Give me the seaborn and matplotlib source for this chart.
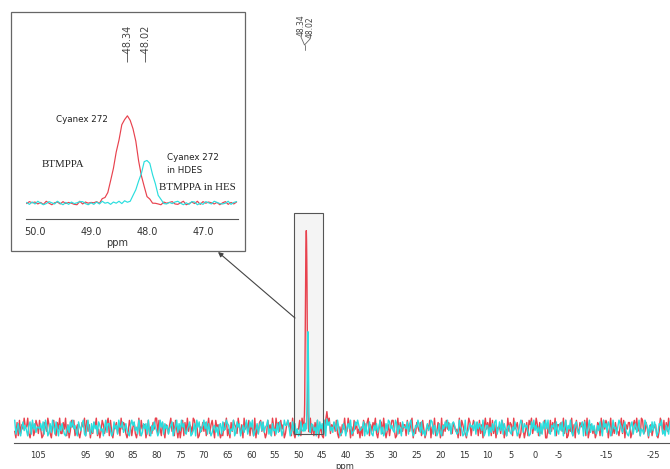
import numpy as np
import pandas as pd
import matplotlib
matplotlib.use("Agg")
import matplotlib.pyplot as plt
import seaborn as sns
from matplotlib.patches import Rectangle, FancyArrowPatch
from matplotlib.lines import Line2D
from matplotlib import transforms

# ---------------- data ----------------
series_names = ["Cyanex 272", "BTMPPA in HES"]
series_colors = ["#e8424e", "#2adede"]

# main spectrum grid (ppm) and hand-read noise digits (0-9 -> -amp..+amp)
main_start, main_step, main_n = 110.0, 0.25, 555
red_noise_main = ("30718264955920471386284017539620583174922749160385"
                  "81462037591836042759140386257918304572619476203851"
                  "57203918466038152749928417306526937184050481729365"
                  "29846015373715926840856302174914073865295260947381"
                  "64190527837302846195195738460268571920344819306257"
                  "92617480351048379265738205164923960518472405186379"
                  "16375920487294036158840192753661853790427537184026"
                  "48052913760916384752275340918632049715863718260594"
                  "73918260455286041937619457302840371869254961723580"
                  "05283749166473928015391608427574819036525027619384"
                  "86049152733159280647702684935198237405614561039728"
                  "2739461058")
cyan_noise_main = ("91472058363068194725547381960272951840637410362859"
                   "46208537910593172846186340592773028461955824731069"
                   "68351940274719206385302958174614680359273957214680"
                   "13709582469481730256250671834976143902857036259148"
                   "59024716838256914073417285039669502837140183746295"
                   "27635091847190468352863950127405749123869634580712"
                   "84106372591502739846329716408554817930265962813047"
                   "35981640272064859371786312954019024756381847539026"
                   "60527389148391740562153840269727563018493625071849"
                   "49216570831738059264920478315680841592736216384095"
                   "72860394515974268310368157249043197506283850276913"
                   "0641872953")
red_noise_amp = 0.05
cyan_noise_amp = 0.04
spike_ppm = [44.0]
red_spike = [0.10]
cyan_spike = [0.05]

# inset (zoom) grid, 50.15 -> 46.40 ppm
inset_start, inset_stop, inset_step = 50.15, 46.40, 0.05
red_noise_inset = "3857261940572836410927465819306481925037159384620746821590373918475260581627"
cyan_noise_inset = "6172940385294061735883051729461749382065508261947326379405187041852963249168"
inset_noise_amp = 0.02

red_peak_ppm = [48.90, 48.85, 48.80, 48.75, 48.70, 48.65, 48.60, 48.55, 48.50, 48.45, 48.40,
                48.35, 48.30, 48.25, 48.20, 48.15, 48.10, 48.05, 48.00, 47.95, 47.90, 47.85]
red_peak_val = [0.00, 0.01, 0.03, 0.07, 0.14, 0.25, 0.40, 0.57, 0.74, 0.88, 0.97,
                1.00, 0.97, 0.86, 0.70, 0.50, 0.31, 0.17, 0.08, 0.03, 0.00, -0.01]
cyan_peak_ppm = [48.45, 48.40, 48.35, 48.30, 48.25, 48.20, 48.15, 48.10, 48.05, 48.00,
                 47.95, 47.90, 47.85, 47.80, 47.75, 47.70]
cyan_peak_val = [0.00, 0.01, 0.02, 0.04, 0.08, 0.15, 0.25, 0.36, 0.46, 0.50,
                 0.45, 0.34, 0.20, 0.09, 0.03, 0.00]

main_tick_labels = [105, 95, 90, 85, 80, 75, 70, 65, 60, 55, 50, 45, 40, 35, 30, 25,
                    20, 15, 10, 5, 0, -5, -15, -25]
inset_tick_labels = ["50.0", "49.0", "48.0", "47.0"]
inset_ticks = [50.0, 49.0, 48.0, 47.0]
peak_labels = ["48.34", "48.02"]
peak_pos = [48.34, 48.02]


def digits_to_offsets(s, amp, n):
    d = np.array([int(c) for c in s[:n]], dtype=float)
    return (d - 4.5) / 4.5 * amp


def add_profile(x, y, px, pv):
    y = y.copy()
    for p, v in zip(px, pv):
        idx = np.where(np.isclose(x, p))[0]
        y[idx] += v
    return y


n_main = min(main_n, len(red_noise_main), len(cyan_noise_main))
x_main = np.round(main_start - main_step * np.arange(n_main), 3)
n_in = min(len(red_noise_inset), len(cyan_noise_inset))
x_in = np.round(inset_start - inset_step * np.arange(n_in), 3)

r_in = add_profile(x_in, digits_to_offsets(red_noise_inset, inset_noise_amp, n_in), red_peak_ppm, red_peak_val)
c_in = add_profile(x_in, digits_to_offsets(cyan_noise_inset, inset_noise_amp, n_in), cyan_peak_ppm, cyan_peak_val)

r_main = add_profile(x_main, digits_to_offsets(red_noise_main, red_noise_amp, n_main), spike_ppm, red_spike)
c_main = add_profile(x_main, digits_to_offsets(cyan_noise_main, cyan_noise_amp, n_main), spike_ppm, cyan_spike)
peak_lo, peak_hi = 47.6, 49.0
outside = (x_main > peak_hi) | (x_main < peak_lo)
inside = (x_in <= peak_hi - 0.01) & (x_in >= peak_lo + 0.01)

main_df = pd.concat([
    pd.DataFrame({"ppm": np.r_[x_main[outside], x_in[inside]],
                  "I": np.r_[r_main[outside], r_in[inside]], "series": series_names[0]}),
    pd.DataFrame({"ppm": np.r_[x_main[outside], x_in[inside]],
                  "I": np.r_[c_main[outside], c_in[inside]], "series": series_names[1]}),
]).sort_values(["series", "ppm"], ascending=[True, False])
inset_df = pd.concat([
    pd.DataFrame({"ppm": x_in, "I": r_in, "series": series_names[0]}),
    pd.DataFrame({"ppm": x_in, "I": c_in, "series": series_names[1]}),
])

# ---------------- figure ----------------
sns.set_style("white")
plt.rcParams["font.family"] = ["DejaVu Sans"]
W, H = 670, 469


def fx(x):
    return x / W


def fy(y):
    return (H - y) / H


fig = plt.figure(figsize=(6.7, 4.69), dpi=100)
ax = fig.add_axes([fx(14), fy(443), 656 / W, 443 / H])
pal = dict(zip(series_names, series_colors))
sns.lineplot(data=main_df, x="ppm", y="I", hue="series", hue_order=series_names, palette=pal,
             estimator=None, errorbar=None, sort=False, legend=False, lw=1.0, ax=ax, zorder=2)
ax.set_xlim(110.15, -28.54)
ax.set_ylim(-0.0761, 2.173)
for s in ["top", "left", "right"]:
    ax.spines[s].set_visible(False)
ax.spines["bottom"].set_color("#555555")
ax.spines["bottom"].set_linewidth(0.8)
ax.set_yticks([])
ax.set_xticks(main_tick_labels)
ax.set_xticklabels([str(v) for v in main_tick_labels])
ax.set_xticks(np.arange(-27.5, 110, 2.5), minor=True)
ax.tick_params(axis="x", which="major", direction="out", length=3, width=0.6, color="#555555",
               labelsize=6, pad=2.5, labelcolor="#333333")
ax.tick_params(axis="x", which="minor", direction="out", length=2, width=0.5, color="#555555")
ax.set_xlabel("")
ax.set_ylabel("")
fig.text(fx(345), fy(466), "ppm", ha="center", va="center", fontsize=6, color="#333333")

# highlight box
ax.add_patch(Rectangle((50.95, -0.030), 44.82 - 50.95, 1.091 + 0.030, facecolor="#f4f4f4",
                       edgecolor="none", zorder=1))
ax.add_patch(Rectangle((50.95, -0.030), 44.82 - 50.95, 1.091 + 0.030, facecolor="none",
                       edgecolor="#555555", lw=0.8, zorder=3))

# main peak annotations
for lab, px_, ybot in zip(peak_labels, [301, 310], [36, 38]):
    fig.text(fx(px_), fy(ybot), lab, rotation=90, ha="center", va="bottom", fontsize=5.5,
             color="#444444")
fig.add_artist(Line2D([fx(301), fx(304.5), fx(310)], [fy(37), fy(45), fy(39)],
                      transform=fig.transFigure, color="#666666", lw=0.6))
fig.add_artist(Line2D([fx(304.5), fx(304.5)], [fy(45), fy(50)],
                      transform=fig.transFigure, color="#666666", lw=0.6))

# inset frame
fig.add_artist(Rectangle((fx(11), fy(251)), 234 / W, 239 / H, transform=fig.transFigure,
                         facecolor="white", edgecolor="#666666", lw=0.9, zorder=5))
# arrow
fig.add_artist(FancyArrowPatch((fx(295), fy(318)), (fx(218), fy(252)), transform=fig.transFigure,
                               arrowstyle="-|>", mutation_scale=7, color="#444444", lw=0.8,
                               shrinkA=0, shrinkB=0, zorder=7))

# inset axes
ax_in = fig.add_axes([fx(26), fy(219), 212 / W, 159 / H])
ax_in.set_zorder(6)
ax_in.patch.set_alpha(0)
sns.lineplot(data=inset_df, x="ppm", y="I", hue="series", hue_order=series_names, palette=pal,
             estimator=None, errorbar=None, sort=False, legend=False, lw=0.85, ax=ax_in)
ax_in.set_xlim(50.161, 46.375)
ax_in.set_ylim(-0.184, 1.644)
for s in ["top", "left", "right"]:
    ax_in.spines[s].set_visible(False)
ax_in.spines["bottom"].set_color("#555555")
ax_in.spines["bottom"].set_linewidth(0.8)
ax_in.set_yticks([])
ax_in.set_xticks(inset_ticks)
ax_in.set_xticklabels(inset_tick_labels)
ax_in.set_xticks(np.arange(46.5, 50.2, 0.25), minor=True)
ax_in.tick_params(axis="x", which="major", direction="out", length=3, width=0.6, color="#555555",
                  labelsize=7, pad=3, labelcolor="#333333")
ax_in.tick_params(axis="x", which="minor", direction="out", length=2, width=0.5, color="#555555")
ax_in.set_xlabel("")
ax_in.set_ylabel("")
fig.text(fx(117), fy(243), "ppm", ha="center", va="center", fontsize=7, color="#333333", zorder=8)

blend = transforms.blended_transform_factory(ax_in.transData, fig.transFigure)
for lab, p in zip(peak_labels, peak_pos):
    ax_in.text(p, fy(62), "\u2014" + lab, transform=blend, rotation=90, ha="center", va="bottom",
               fontsize=7, color="#444444")

# inset labels
txt_kw = dict(color="#222222", zorder=8)
fig.text(fx(82), fy(120), "Cyanex 272", ha="center", va="center", fontsize=6.3, **txt_kw)
fig.text(fx(167), fy(157), "Cyanex 272", ha="left", va="center", fontsize=6.3, **txt_kw)
fig.text(fx(167), fy(170), "in HDES", ha="left", va="center", fontsize=6.3, **txt_kw)
fig.text(fx(63), fy(164), "BTMPPA", ha="center", va="center", fontsize=7.8,
         family="Liberation Serif", **txt_kw)
fig.text(fx(159), fy(187), "BTMPPA in HES", ha="left", va="center", fontsize=7.8,
         family="Liberation Serif", **txt_kw)

fig.savefig("out.png", dpi=100)
